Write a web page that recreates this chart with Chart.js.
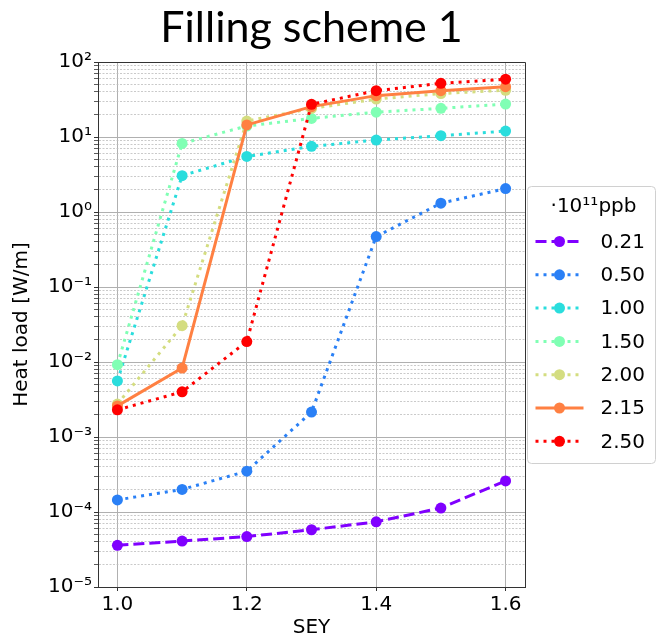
<!DOCTYPE html>
<html>
<head>
<meta charset="utf-8">
<script src="https://cdn.jsdelivr.net/npm/chart.js@4.4.1/dist/chart.umd.min.js"></script>
<style>
  html, body { margin: 0; padding: 0; background: #fff; }
  canvas { display: block; }
</style>
</head>
<body>
<canvas id="chart" width="656" height="641"></canvas>
<script>
// Heat load vs SEY, one curve per bunch intensity (x1e11 ppb)
const sey = [1.0, 1.1, 1.2, 1.3, 1.4, 1.5, 1.6];
const intensityLabels = ['0.21', '0.50', '1.00', '1.50', '2.00', '2.15', '2.50'];
const load021 = [3.6e-5, 4.1e-5, 4.7e-5, 5.8e-5, 7.4e-5, 1.13e-4, 2.6e-4];
const load050 = [1.45e-4, 2.0e-4, 3.5e-4, 2.15e-3, 0.47, 1.31, 2.05];
const load100 = [5.6e-3, 3.05, 5.5, 7.5, 9.1, 10.4, 12.0];
const load150 = [9.2e-3, 8.2, 14, 17.7, 21.4, 24.1, 27.5];
const load200 = [2.75e-3, 0.0305, 16.3, 24, 32, 38, 42];
const load215 = [2.6e-3, 8.3e-3, 14.5, 25.4, 35.6, 41.4, 46.9];
const load250 = [2.3e-3, 4.0e-3, 0.0187, 27.3, 41.4, 52, 59];
const xTickValues = [1.0, 1.2, 1.4, 1.6];
const yTickLabels = ['10⁻⁵', '10⁻⁴', '10⁻³', '10⁻²', '10⁻¹', '10⁰', '10¹', '10²'];

const series = [load021, load050, load100, load150, load200, load215, load250];

// rainbow colormap sampled at 7 steps, matplotlib-ish line styles
const COLORS = ['#8000ff', '#2a80f6', '#2adddd', '#80ffb4', '#d4dd80', '#ff8042', '#ff0000'];
const DOT = [3, 5];
const DASHES = [[11, 5], DOT, DOT, DOT, DOT, [], DOT];
const FONT = { family: "'DejaVu Sans', sans-serif", size: 20 };

// 1..9 x 10^e for every decade, decades flagged as major
function logTicks(minExp, maxExp) {
  const out = [];
  for (let e = minExp; e < maxExp; e++) {
    for (let m = 1; m <= 9; m++) out.push({ value: m * Math.pow(10, e), major: m === 1 });
  }
  out.push({ value: Math.pow(10, maxExp), major: true });
  return out;
}

const datasets = series.map((vals, i) => ({
  label: intensityLabels[i],
  data: vals.map((v, j) => ({ x: sey[j], y: v })),
  borderColor: COLORS[i],
  backgroundColor: COLORS[i],
  borderWidth: 3,
  borderDash: DASHES[i],
  pointRadius: 5.5,
  pointHoverRadius: 5.5,
  pointBorderWidth: 0,
  tension: 0,
  order: series.length - i,
}));

// top/right spines
const framePlugin = {
  id: 'frame',
  afterDatasetsDraw(chart) {
    const { ctx, chartArea: a } = chart;
    ctx.save();
    ctx.strokeStyle = '#333';
    ctx.lineWidth = 1;
    ctx.beginPath();
    ctx.moveTo(Math.round(a.left) + 0.5, Math.round(a.top) + 0.5);
    ctx.lineTo(Math.round(a.right) + 0.5, Math.round(a.top) + 0.5);
    ctx.lineTo(Math.round(a.right) + 0.5, Math.round(a.bottom) + 0.5);
    ctx.stroke();
    ctx.restore();
  },
};

// boxed legend with line + marker handles, right of the plot
const legendPlugin = {
  id: 'sideLegend',
  afterDraw(chart) {
    const { ctx, chartArea: a } = chart;
    const x0 = a.right + 2.5, y0 = 186.5, w = 128, h = 277;
    ctx.save();
    ctx.beginPath();
    ctx.roundRect(x0, y0, w, h, 4);
    ctx.fillStyle = 'rgba(255,255,255,0.8)';
    ctx.fill();
    ctx.strokeStyle = '#d0d0d0';
    ctx.lineWidth = 1;
    ctx.stroke();

    ctx.fillStyle = '#000';
    ctx.font = "20px 'DejaVu Sans'";
    ctx.textBaseline = 'middle';
    ctx.textAlign = 'center';
    ctx.fillText('·10¹¹ppb', x0 + 66, 207);

    ctx.textAlign = 'left';
    chart.data.datasets.forEach((ds, i) => {
      const y = 241.5 + i * 33.3;
      ctx.strokeStyle = ds.borderColor;
      ctx.lineWidth = ds.borderWidth;
      ctx.setLineDash(ds.borderDash);
      ctx.beginPath();
      ctx.moveTo(x0 + 8, y);
      ctx.lineTo(x0 + 56, y);
      ctx.stroke();
      ctx.setLineDash([]);
      ctx.fillStyle = ds.backgroundColor;
      ctx.beginPath();
      ctx.arc(x0 + 32, y, ds.pointRadius, 0, Math.PI * 2);
      ctx.fill();
      ctx.fillStyle = '#000';
      ctx.fillText(ds.label, x0 + 73, y + 1);
    });
    ctx.restore();
  },
};

new Chart(document.getElementById('chart'), {
  type: 'line',
  data: { datasets },
  plugins: [framePlugin, legendPlugin],
  options: {
    responsive: false,
    animation: false,
    events: [],
    layout: { padding: { left: 0, right: 131, top: 0, bottom: 0 } },
    scales: {
      x: {
        type: 'linear',
        min: 0.97,
        max: 1.63,
        afterBuildTicks: (s) => { s.ticks = xTickValues.map(v => ({ value: v })); },
        afterFit: (s) => { s.height = 54; },
        ticks: { font: FONT, color: '#000', padding: 2, autoSkip: false, maxRotation: 0, callback: v => v.toFixed(1) },
        grid: { color: '#b0b0b0', lineWidth: 1, tickLength: 4, tickColor: '#333' },
        border: { color: '#333', width: 1 },
        title: { display: true, text: 'SEY', font: FONT, color: '#000', padding: { top: 0, bottom: 1 } },
      },
      y: {
        type: 'logarithmic',
        min: 1e-5,
        max: 1e2,
        afterBuildTicks: (s) => { s.ticks = logTicks(-5, 2); },
        afterFit: (s) => { s.width = 98; },
        ticks: {
          font: FONT, color: '#000', padding: 2, autoSkip: false,
          callback: (v, i, t) => t[i].major ? yTickLabels[Math.round(Math.log10(v)) + 5] : '',
        },
        grid: {
          color: c => (c.tick && !c.tick.major) ? '#bdbdbd' : '#b0b0b0',
          lineWidth: c => (c.tick && !c.tick.major) ? 0.8 : 1,
          tickLength: 4,
          tickColor: '#333',
        },
        border: { color: '#333', width: 1, dash: c => (c.tick && !c.tick.major) ? [2, 1.5] : [] },
        title: { display: true, text: 'Heat load [W/m]', font: FONT, color: '#000', padding: { top: 10, bottom: 0 } },
      },
    },
    plugins: {
      legend: { display: false },
      tooltip: { enabled: false },
      title: {
        display: true,
        text: 'Filling scheme 1',
        fullSize: false,
        color: '#000',
        font: { family: 'Lato', size: 43, weight: 'normal' },
        padding: { top: 2, bottom: 8.4 },
      },
    },
  },
});
</script>
</body>
</html>
